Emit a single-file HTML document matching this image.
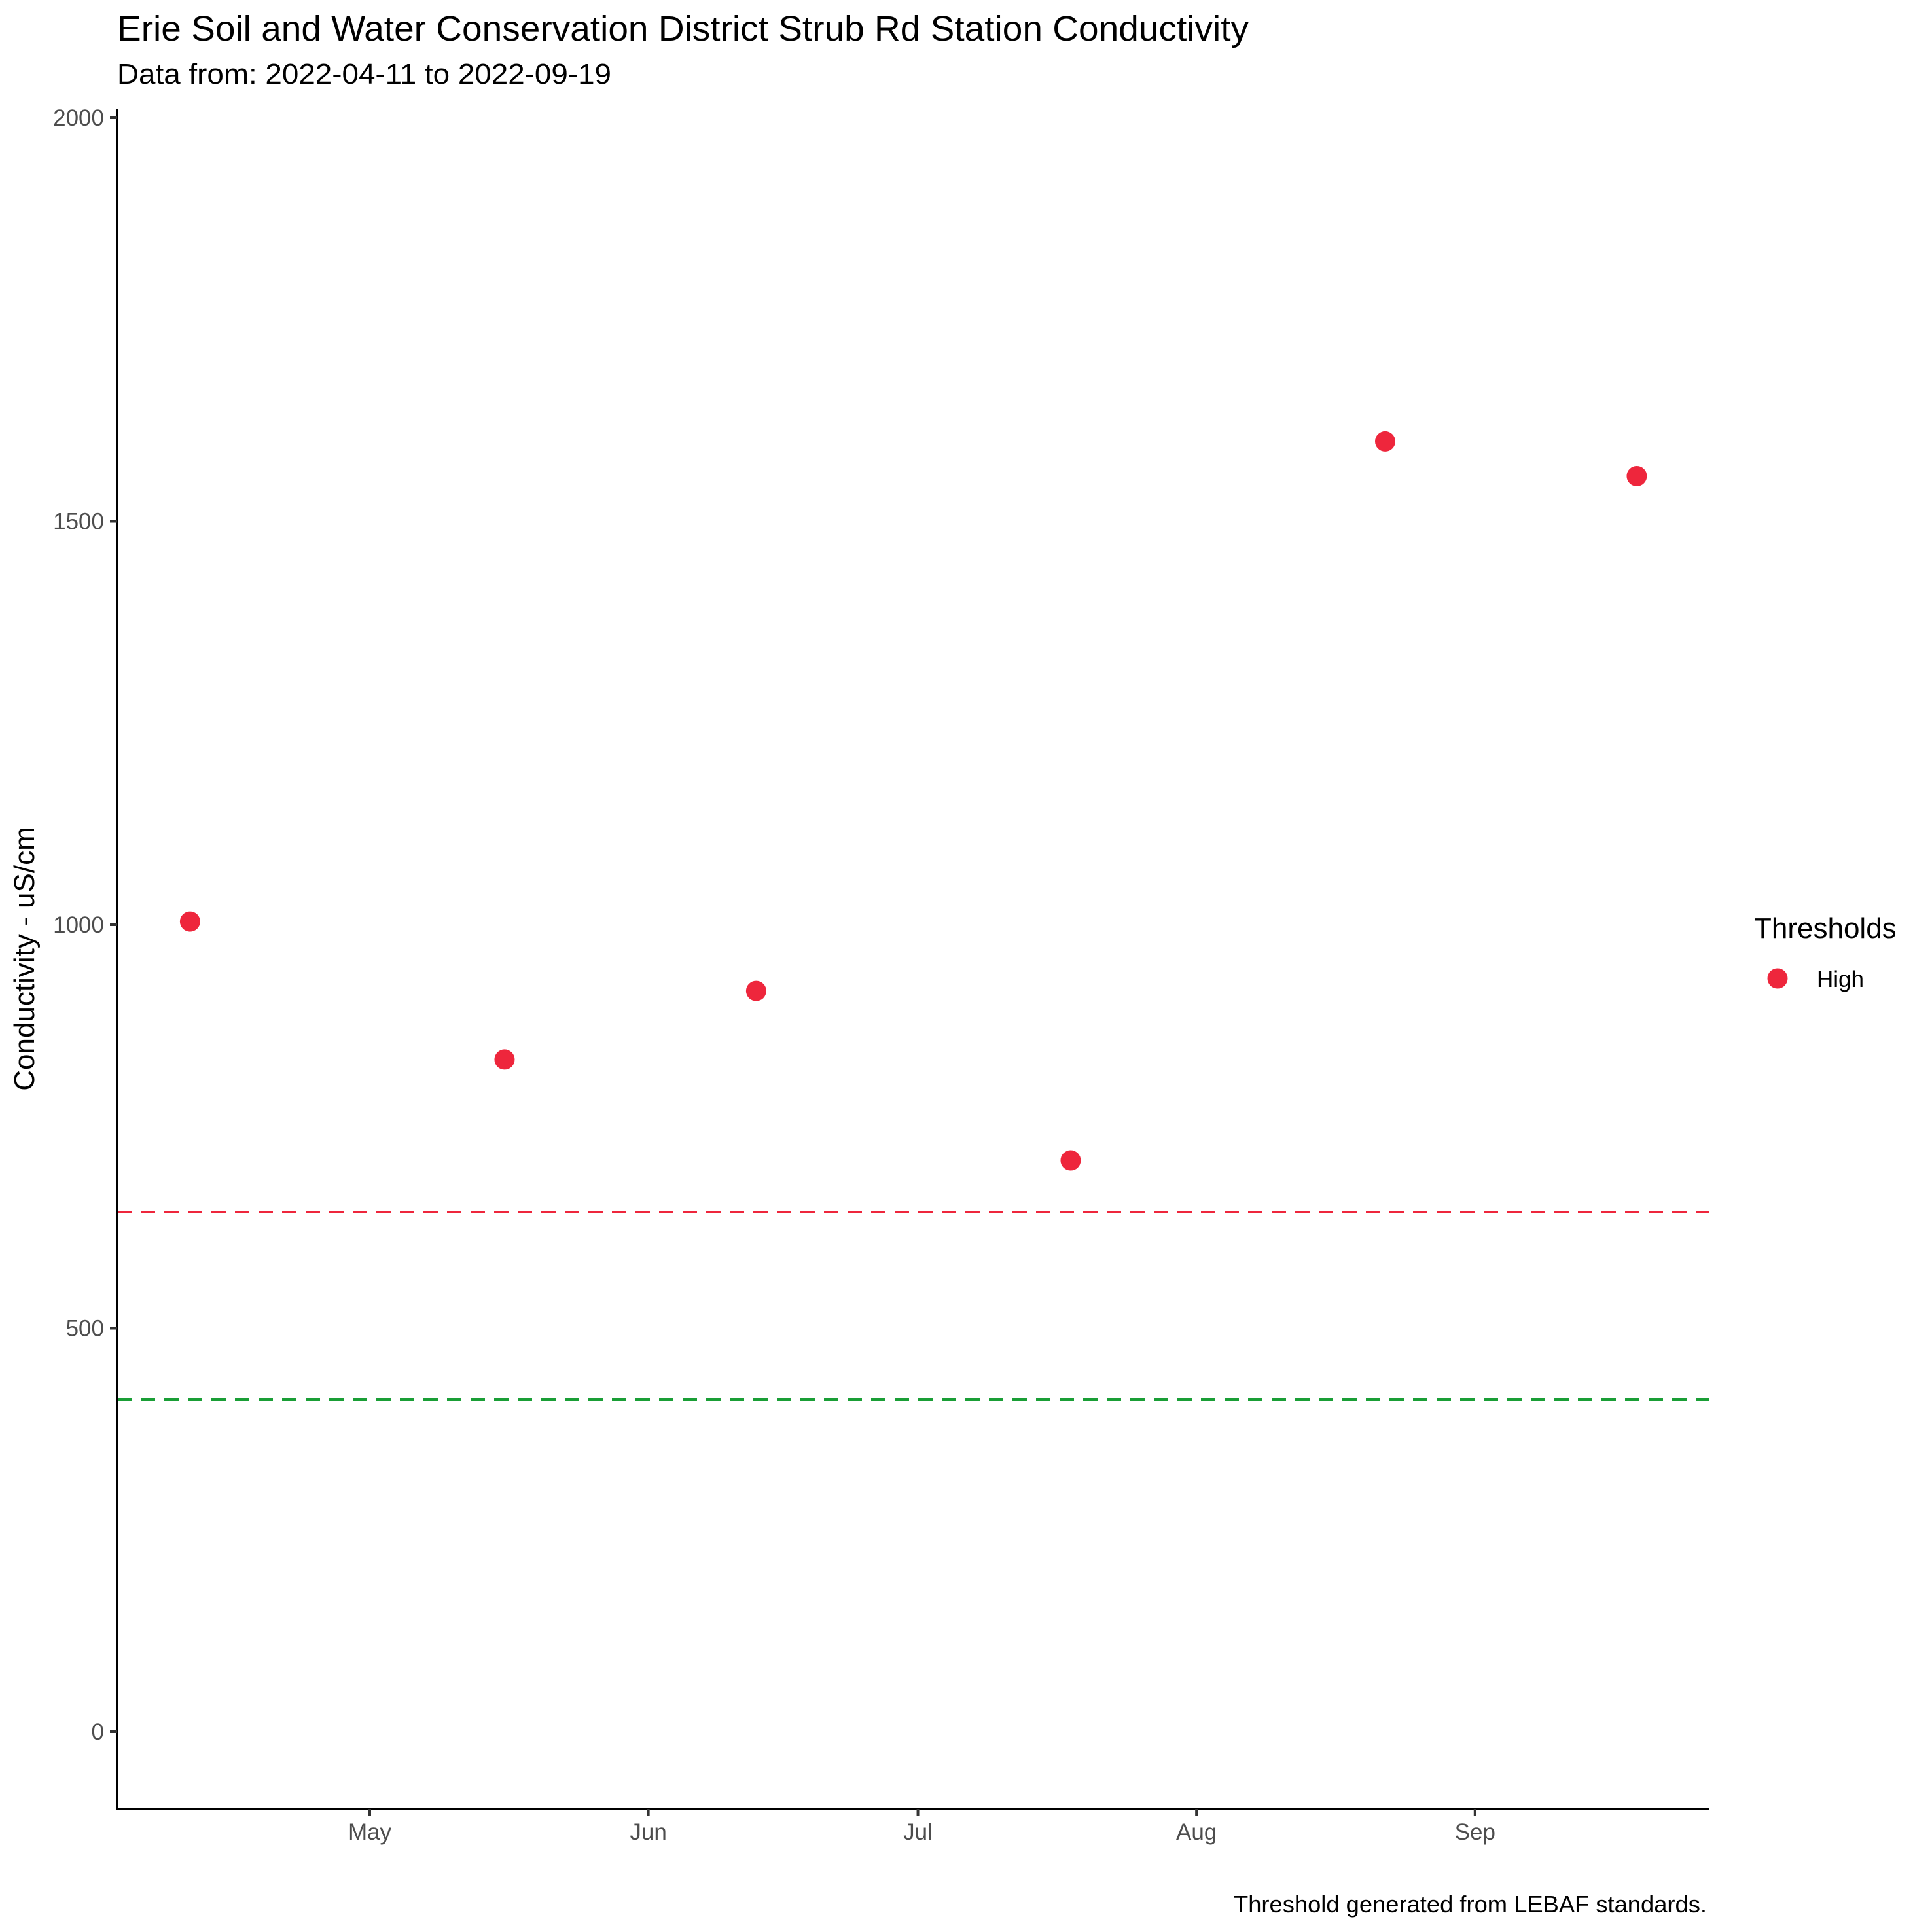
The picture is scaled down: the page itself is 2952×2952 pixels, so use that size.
<!DOCTYPE html>
<html><head><meta charset="utf-8"><style>
html,body{margin:0;padding:0;background:#fff;}
svg{display:block;font-family:"Liberation Sans",Arial,sans-serif;}
</style></head><body>
<svg id="chart" width="2952" height="2952" viewBox="0 0 2952 2952" xmlns="http://www.w3.org/2000/svg">
<rect width="2952" height="2952" fill="#fff"/>
<text x="179" y="62" font-size="54" fill="#000" textLength="1729" lengthAdjust="spacingAndGlyphs">Erie Soil and Water Conservation District Strub Rd Station Conductivity</text>
<text x="179" y="128" font-size="44" fill="#000" textLength="755" lengthAdjust="spacingAndGlyphs">Data from: 2022-04-11 to 2022-09-19</text>
<text transform="translate(52,1465) rotate(-90)" text-anchor="middle" font-size="44" fill="#000">Conductivity - uS/cm</text>
<g id="plot"></g>
<text x="2680" y="1433" font-size="44" fill="#000">Thresholds</text>
<circle cx="2716" cy="1495" r="15.5" fill="#ee263c"/>
<text x="2776" y="1508" font-size="35" fill="#000">High</text>
<text x="2608" y="2922" text-anchor="end" font-size="36" fill="#000" textLength="723" lengthAdjust="spacingAndGlyphs">Threshold generated from LEBAF standards.</text>
</svg>
<script>
const dates = ["2022-04-11","2022-05-16","2022-06-13","2022-07-18","2022-08-22","2022-09-19"];
const values = [1004, 833, 918, 708, 1599, 1556];
const thresholdHigh = 644;
const thresholdLow = 412;
const yTicks = [0, 500, 1000, 1500, 2000];
const xTickDates = ["2022-05-01","2022-06-01","2022-07-01","2022-08-01","2022-09-01"];
const xTickLabels = ["May","Jun","Jul","Aug","Sep"];

const NS = "http://www.w3.org/2000/svg";
const g = document.getElementById('plot');
const L = 179, R = 2612, B = 2764, T = 166;
const day = s => Date.UTC(+s.slice(0,4), +s.slice(5,7)-1, +s.slice(8,10)) / 86400000;
const x0 = day("2022-05-01");
const xs = d => 565 + (day(d) - x0) * 13.73;
const ys = v => 2646 - v * (2646 - 180) / 2000;
function mk(tag, attrs){ const e = document.createElementNS(NS, tag); for (const k in attrs) e.setAttribute(k, attrs[k]); g.appendChild(e); return e; }

[[thresholdHigh,'#ee263c','threshold-high-line'],[thresholdLow,'#1a9e36','threshold-low-line']].forEach(t => {
  const ln = mk('line', {x1:L, x2:R, y1:ys(t[0]), y2:ys(t[0]), stroke:t[1], 'stroke-width':4, 'stroke-dasharray':'22 14'});
  
  
});

dates.forEach((d, i) => {
  const c = mk('circle', {cx:xs(d), cy:ys(values[i]), r:15.5, fill:'#ee263c'});
  
  
});

const ya = mk('line', {x1:L, x2:L, y1:T, y2:B+2, stroke:'#000', 'stroke-width':4});


const xa = mk('line', {x1:L-2, x2:R, y1:B, y2:B, stroke:'#000', 'stroke-width':4});



yTicks.forEach(v => {
  const tk = mk('line', {x1:L-11, x2:L, y1:ys(v), y2:ys(v), stroke:'#333', 'stroke-width':4});
  
  
  const tx = mk('text', {x:L-20, y:ys(v)+12, 'text-anchor':'end', 'font-size':35, fill:'#4d4d4d'});
  tx.textContent = String(v);
  
  
});

xTickDates.forEach((d, i) => {
  const tk = mk('line', {x1:xs(d), x2:xs(d), y1:B, y2:B+11, stroke:'#333', 'stroke-width':4});
  
  
  const tx = mk('text', {x:xs(d), y:2811, 'text-anchor':'middle', 'font-size':35, fill:'#4d4d4d'});
  tx.textContent = xTickLabels[i];
  
  
});
</script>
</body></html>
